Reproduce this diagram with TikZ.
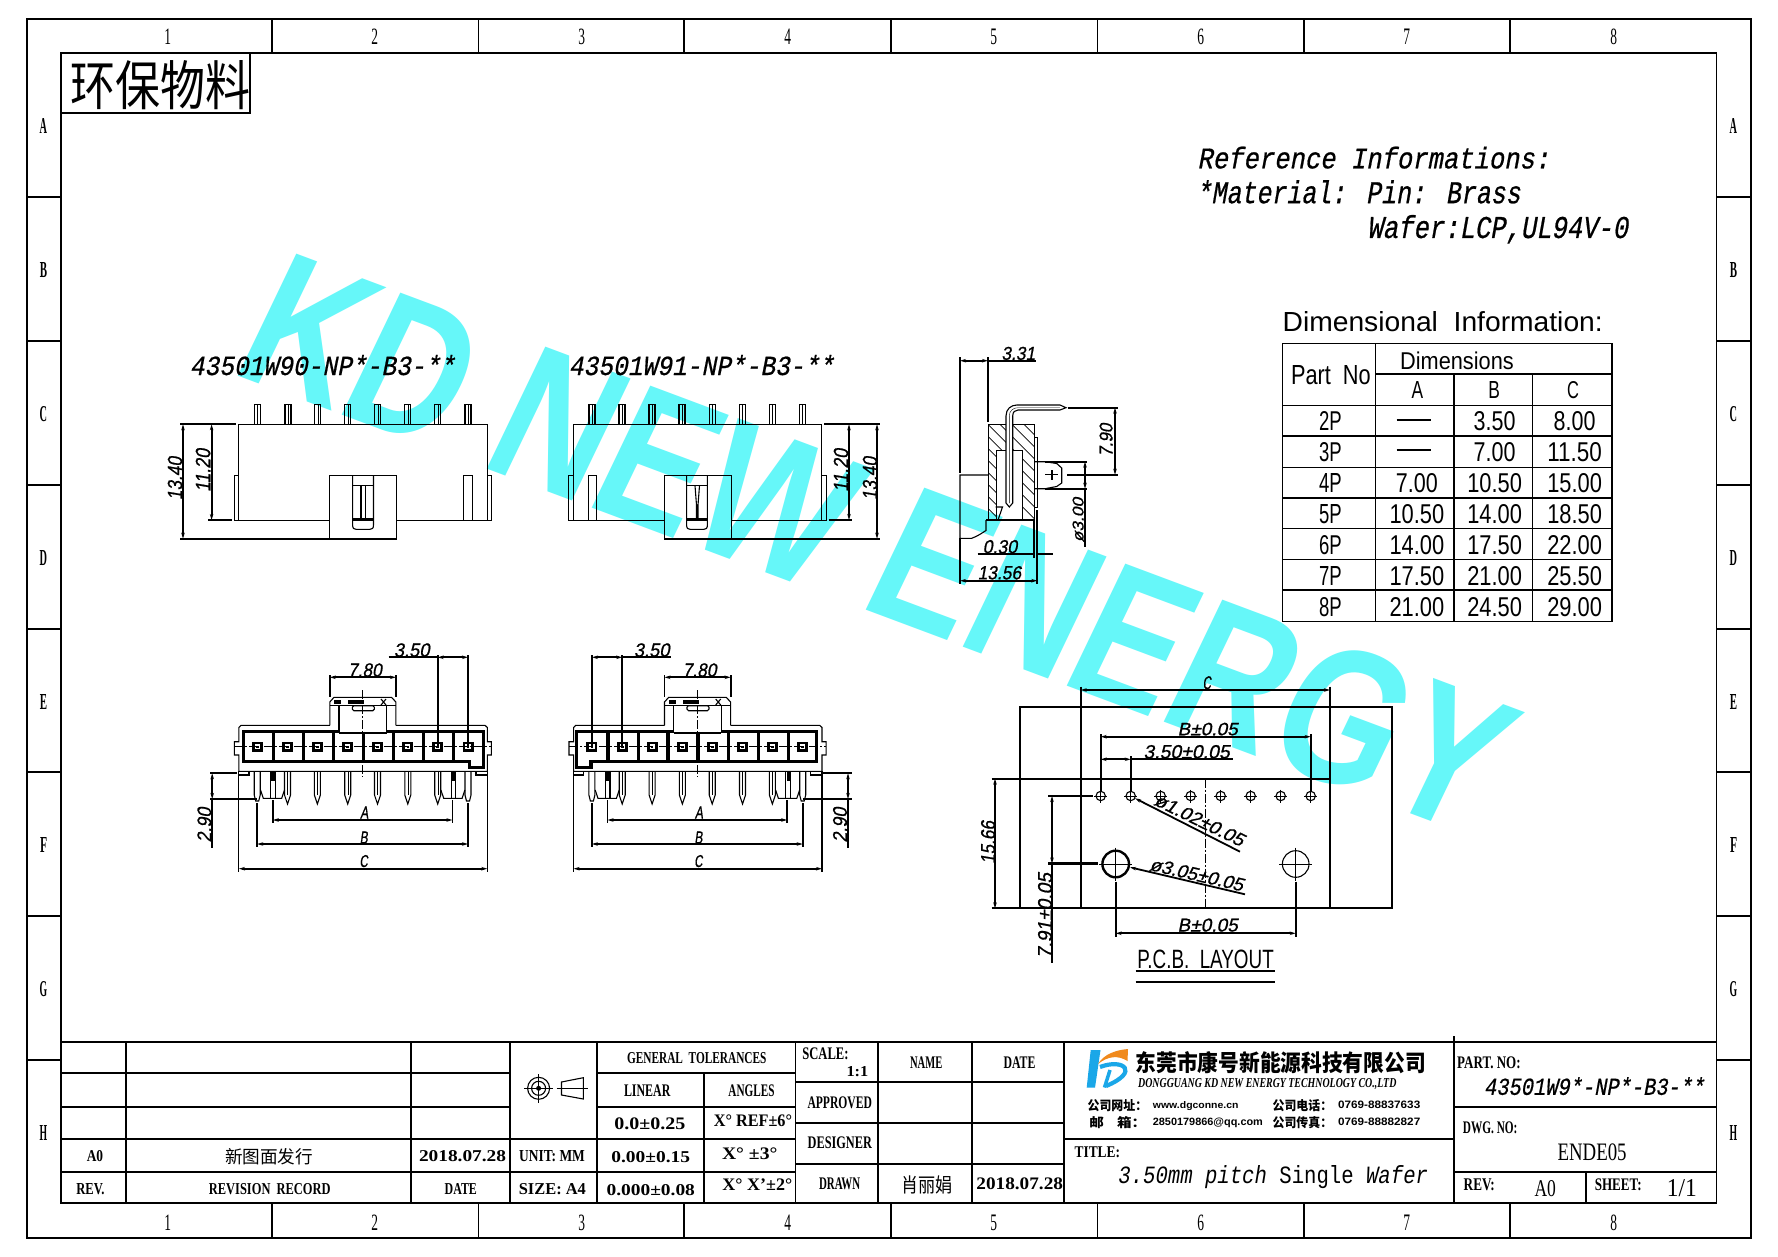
\documentclass[tikz,border=0pt]{standalone}
\usepackage{fontspec}
\usepackage{graphicx}
\usetikzlibrary{arrows.meta}
\setmainfont{Liberation Serif}
\newfontfamily\fsa{Liberation Sans}
\newfontfamily\fmo{Liberation Mono}
\newfontfamily\fcj{Noto Sans CJK SC}
\newfontfamily\fdim[FakeSlant=0.2,FakeBold=0.8]{Liberation Sans}
\newfontfamily\fmi[FakeSlant=0.22,FakeBold=0.7]{Liberation Mono}
\newcommand\ftb{\rmfamily\bfseries}
\definecolor{wm}{RGB}{102,247,249}
\definecolor{logob}{RGB}{26,167,232}
\definecolor{logoo}{RGB}{240,138,29}
\newcounter{tn}
\newlength\twd
\newcommand\TX[7][0]{\stepcounter{tn}\setlength\twd{\dimexpr #5pt+#6pt*20/100\relax}\node[inner sep=0pt,outer sep=0pt,rotate=#1] (t\arabic{tn}) at (#3,#4) {\raisebox{0pt}[\height][0pt]{\resizebox{\twd}{#6pt}{#2 #7}\kern\dimexpr #6pt*12/100\relax}};}
\newcommand\TY[7][0]{\stepcounter{tn}\node[inner sep=0pt,outer sep=0pt,rotate=#1] (t\arabic{tn}) at (#3,#4) {\raisebox{0pt}[\height][0pt]{\resizebox{#5pt}{#6pt}{#2 #7}}};}
\newcommand\TB[4]{\TX{\fsa}{#1}{#2}{#3}{19}{#4}}
\tikzset{
 thinl/.style={line width=1.1pt},
 med/.style={line width=1.8pt},
 heavy/.style={line width=3.2pt},
 leader/.style={line width=2.2pt},
 ctr/.style={line width=0.7pt,dash pattern=on 9pt off 2pt on 2pt off 2pt},
 dimb/.style={line width=1.8pt,{Stealth[length=6pt,width=3.5pt]}-{Stealth[length=6pt,width=3.5pt]}},
 dimr/.style={line width=1.8pt,-{Stealth[length=6pt,width=3.5pt]}},
}
\begin{document}
\begin{tikzpicture}[x=1pt,y=-1pt,line cap=butt,line join=miter]
\useasboundingbox (0,0) rectangle (1778,1257);
\fill[white] (0,0) rectangle (1778,1257);
% watermark
\node[anchor=base west,inner sep=0pt,rotate=-20.5,xslant=0.09,xscale=0.79,text=wm,font={\fsa\bfseries\fontsize{196}{196}\selectfont}] (wmark) at (228,372) {KD NEW ENERGY};

% frame
\draw[med] (26.7,19.3) rectangle (1751,1238);
\draw[med] (60.7,52.7) rectangle (1716.5,1203.3);
\foreach \x in {272,478.5,684,891,1097.5,1304,1510}{
 \draw[med] (\x,19.3)--(\x,52.7);
 \draw[med] (\x,1203.3)--(\x,1238);
}
\foreach \y in {197,341,485,629,772,916,1060}{
 \draw[med] (26.7,\y)--(60.7,\y);
 \draw[med] (1716.5,\y)--(1751,\y);
}
\foreach \x/\s in {167/1,374/2,581/3,787/4,993/5,1200/6,1406/7,1613/8}{
 \TX{\rmfamily}{\x}{36.5}{7}{15.5}{\s}
 \TX{\rmfamily}{\x}{1222.5}{7}{15.5}{\s}
}
\foreach \y/\s in {126/A,270/B,414/C,558/D,702/E,845/F,989/G,1133/H}{
 \TX{\ftb}{43}{\y}{7}{15}{\s}
 \TX{\ftb}{1733}{\y}{7}{15}{\s}
}
% eco box
\draw[med] (60.7,52.7) rectangle (250,112.7);
\TY{\fcj}{155}{82.5}{190}{45}{环保物料}

% reference text
\TY{\fmi}{1366}{157.5}{368}{21.7}{Reference Informations:}
\TY{\fmi}{1351}{191.7}{339}{23}{*Material: Pin: Brass}
\TY{\fmi}{1490}{226.5}{276}{23}{Wafer:LCP,UL94V-0}

% dimension table
\TX{\fsa}{1440}{321.7}{324}{20}{Dimensional\ \ Information:}
\draw[thinl] (1282.7,343.3) rectangle (1612,621.7);
\draw[thinl] (1375.7,343.3)--(1375.7,621.7);
\draw[thinl] (1454,374)--(1454,621.7);
\draw[thinl] (1532.7,374)--(1532.7,621.7);
\draw[thinl] (1375.7,374)--(1612,374);
\foreach \y in {405.3,436,467.3,498,528.7,559.3,590}{\draw[thinl] (1282.7,\y)--(1612,\y);}
\TX{\fsa}{1329}{374.5}{82}{19}{Part\ \ No}
\TX{\fsa}{1455}{360.5}{116}{17.6}{Dimensions}
\TX{\fsa}{1416}{390}{13}{17}{A}
\TX{\fsa}{1492.7}{390}{13}{17}{B}
\TX{\fsa}{1571.7}{390}{13}{17}{C}
\TB{1329}{420.5}{24}{2P}
\TB{1329}{451.5}{24}{3P}
\TB{1329}{483}{24}{4P}
\TB{1329}{514}{24}{5P}
\TB{1329}{544.5}{24}{6P}
\TB{1329}{575.5}{24}{7P}
\TB{1329}{606.5}{24}{8P}
\draw[med] (1396.7,420)--(1430.7,420);
\draw[med] (1396.7,450)--(1430.7,450);
\TB{1415}{483}{44}{7.00}
\TB{1415}{514}{57}{10.50}
\TB{1415}{544.5}{57}{14.00}
\TB{1415}{575.5}{57}{17.50}
\TB{1415}{606.5}{57}{21.00}
\TB{1492.7}{420.5}{44}{3.50}
\TB{1492.7}{451.5}{44}{7.00}
\TB{1492.7}{483}{57}{10.50}
\TB{1492.7}{514}{57}{14.00}
\TB{1492.7}{544.5}{57}{17.50}
\TB{1492.7}{575.5}{57}{21.00}
\TB{1492.7}{606.5}{57}{24.50}
\TB{1572.7}{420.5}{44}{8.00}
\TB{1572.7}{451.5}{57}{11.50}
\TB{1572.7}{483}{57}{15.00}
\TB{1572.7}{514}{57}{18.50}
\TB{1572.7}{544.5}{57}{22.00}
\TB{1572.7}{575.5}{57}{25.50}
\TB{1572.7}{606.5}{57}{29.00}

% ===== front views =====
\TY{\fmi}{315}{365}{280}{20}{43501W90-NP*-B3-**}
\TY{\fmi}{694}{365}{280}{20}{43501W91-NP*-B3-**}
\foreach \x in {257.6,288,317.7,347.8,377.8,407.9,437.9,468,592,622,652,682,712.3,742.3,772.4,802.5}{
 \draw[thinl] (\x-3,424.3)--(\x-3,404.3)--(\x+3,404.3)--(\x+3,424.3);
 \draw[line width=.4pt] (\x,404.3)--(\x,424.3);
}
% left front
\draw[thinl] (238.7,475.3)--(238.7,424.3)--(487.4,424.3)--(487.4,475.3);
\draw[thinl] (329.4,520.3)--(234.3,520.3)--(234.3,475.3)--(238.7,475.3)--(238.7,520.3);
\draw[thinl] (396.7,520.3)--(491.7,520.3)--(491.7,475.3)--(487.4,475.3)--(487.4,520.3);
\draw[thinl] (463.6,520.3)--(463.6,475.3)--(472.3,475.3)--(472.3,520.3);
\draw[thinl] (329.4,475.3) rectangle (396.7,538.7);
\draw[thinl] (352.6,475.3)--(352.6,525) .. controls (352.6,528.5) and (354,529.3) .. (356,529.3)--(370,529.3) .. controls (372,529.3) and (373.5,528.5) .. (373.5,525)--(373.5,475.3);
\draw[thinl] (352.6,485.7)--(373.5,485.7);
\draw[thinl] (361,485.7)--(361,519) (365.7,485.7)--(365.7,519);
\draw[heavy] (352.6,519.5)--(373.5,519.5);
\draw[leader] (180,424.3)--(236,424.3);
\draw[leader] (180,538.7)--(396.7,538.7);
\draw[leader] (208,520)--(232,520);
\draw[dimb] (183,424.3)--(183,538.7);
\draw[dimb] (211.6,424.3)--(211.6,520);
\TX[90]{\fdim}{175}{480}{45}{14.5}{13.40}
\TX[90]{\fdim}{203}{472}{45}{14.5}{11.20}
% right front
\draw[thinl] (573.7,475.3)--(573.7,424.3)--(821.4,424.3)--(821.4,475.3);
\draw[thinl] (664.3,520.3)--(568.3,520.3)--(568.3,475.3)--(573.7,475.3)--(573.7,520.3);
\draw[thinl] (731.7,520.3)--(826.7,520.3)--(826.7,475.3)--(821.4,475.3)--(821.4,520.3);
\draw[thinl] (588.7,520.3)--(588.7,475.3)--(596.4,475.3)--(596.4,520.3);
\draw[thinl] (664.3,475.3) rectangle (731.7,538.7);
\draw[thinl] (686.6,475.3)--(686.6,525) .. controls (686.6,528.5) and (688,529.3) .. (690,529.3)--(704,529.3) .. controls (706,529.3) and (707.4,528.5) .. (707.4,525)--(707.4,475.3);
\draw[thinl] (686.6,485.7)--(707.4,485.7);
\draw[thinl] (695,485.7)--(696.5,505)--(696.5,519) (699.5,485.7)--(698,505)--(698,519);
\draw[heavy] (686.6,519.5)--(707.4,519.5);
\draw[leader] (824,424.3)--(880,424.3);
\draw[leader] (664.3,538.7)--(880,538.7);
\draw[leader] (828.6,520)--(852,520);
\draw[dimb] (877,424.3)--(877,538.7);
\draw[dimb] (849,424.3)--(849,520);
\TX[90]{\fdim}{870}{480}{45}{14.5}{13.40}
\TX[90]{\fdim}{841}{472}{45}{14.5}{11.20}

% ===== bottom (mating) views =====
\foreach \s in {0,334.7}{
\begin{scope}[xshift=\s pt]
 % housing
 \draw[thinl] (329.8,725.3)--(241,725.3)--(238.9,727.5)--(238.9,741.7)--(234.3,741.7)--(234.3,755)--(238.9,755)--(238.9,771.3)--(487.3,771.3)--(487.3,755)--(491.4,755)--(491.4,741.7)--(487.3,741.7)--(487.3,727.5)--(485,725.3)--(395.9,725.3);
 \draw[thinl] (238.9,771.3)--(238.9,775)--(249,775)--(249,771.3);
 \draw[thinl] (476,771.3)--(476,775)--(487.3,775)--(487.3,771.3);
 % latch block
 \draw[thinl] (329.8,725.3)--(329.8,702)--(334,697.3)--(391.5,697.3)--(395.9,702)--(395.9,725.3);
 \draw[thinl] (329.8,705.7)--(339,705.7)--(339,731.7) (395.9,705.7)--(386.7,705.7)--(386.7,731.7);
 \draw[thinl] (339,705.7)--(386.7,705.7);
 \draw[thinl] (339,733)--(386.7,733);
 \draw[thinl,rounded corners=1.5pt] (352.3,705.7) rectangle (374.3,710.7);
 \fill (334.4,699.5) rectangle (340.8,704);
 \fill (348,699.5) rectangle (363.8,704);
 \draw[thinl] (381,699)--(386,705) (386,699)--(381,705);
 % dividers
 \foreach \x in {273.3,303.4,333.2,363.3,393.4,423.4,453.7}{\draw[heavy] (\x,731.7)--(\x,761.7);}
 % pins and pin squares
 \foreach \x in {257.2,287.5,317.4,347.7,377.5,407.8,437.7,468}{
  \fill (\x-5.5,741.7) rectangle (\x+5.5,751.7);
  \fill[white] (\x-2.6,744.3) rectangle (\x+2.6,749.2);
  \fill (\x-1.3,745.5) rectangle (\x+1.3,748);
 }
 \foreach \x in {287.5,317.4,347.7,377.5,407.8,437.7}{
  \draw[thinl] (\x-3,771.3)--(\x-3,795)--(\x,804)--(\x+3,795)--(\x+3,771.3);
  \draw[line width=.4pt] (\x,771.3)--(\x,795);
 }
 \foreach \x in {257.2,468}{
  \draw[thinl] (\x-3,771.3)--(\x-3,795)--(\x-1.5,801)--(\x+1.5,801)--(\x+3,795)--(\x+3,771.3);
 }
 % latch hooks
 \foreach \d in {0,180.4}{
  \draw[thinl] (260.5+\d,790)--(263.3+\d,798.3)--(281.7+\d,798.3)--(284.5+\d,790);
  \draw[thinl] (270.7+\d,771.3)--(270.7+\d,798.3) (275.3+\d,771.3)--(275.3+\d,798.3);
  \draw[heavy] (273+\d,771.3)--(273+\d,781);
 }
 % center lines
 \draw[ctr] (234.3,746.7)--(491.4,746.7);
 \draw[ctr] (362.8,690)--(362.8,776.7);
 % dims
 \draw[med] (329.8,675)--(329.8,697.3) (395.9,675)--(395.9,697.3);
 \draw[dimb] (329.8,677.3)--(395.9,677.3);
 \TX{\fdim}{363.3}{670}{36}{13.4}{7.80}
 \draw[med] (272.8,800)--(272.8,823) (452.4,800)--(452.4,823);
 \draw[dimb] (272.8,820)--(452.4,820);
 \TX{\fdim}{363.3}{812.5}{9}{12}{A}
 \draw[med] (257.2,803)--(257.2,847) (468,803)--(468,847);
 \draw[dimb] (257.2,844)--(468,844);
 \TX{\fdim}{362.8}{837.5}{9}{12}{B}
 \draw[thinl] (238.9,775)--(238.9,872) (487.3,775)--(487.3,872);
 \draw[dimb] (238.9,868.7)--(487.3,868.7);
 \TX{\fdim}{362.8}{861}{9}{12}{C}
\end{scope}
}
% left cavity with key
\draw[heavy] (339,731.7)--(243.5,731.7)--(243.5,761.7)--(469.4,761.7)--(469.4,767.3)--(483.6,767.3)--(483.6,731.7)--(386.7,731.7);
% right cavity with key
\draw[heavy] (721.3,731.7)--(816.8,731.7)--(816.8,761.7)--(590.9,761.7)--(590.9,767.3)--(576.7,767.3)--(576.7,731.7)--(673.6,731.7);
% 3.50 left
\draw[med] (437.7,655)--(437.7,746.7) (468,655)--(468,746.7);
\draw[dimb] (437.7,657.3)--(468,657.3);
\draw[med] (388.5,657.3)--(437.7,657.3);
\TX{\fdim}{410}{650}{38}{13.4}{3.50}
% 3.50 right
\draw[med] (592,655)--(592,746.7) (622.2,655)--(622.2,746.7);
\draw[dimb] (592,657.3)--(622.2,657.3);
\draw[med] (622.2,657.3)--(671.4,657.3);
\TX{\fdim}{650}{650}{38}{13.4}{3.50}
% 2.90 left
\draw[leader] (210,773.3)--(236.5,773.3);
\draw[leader] (210,799)--(257,799);
\draw[dimb] (212.2,773.3)--(212.2,799);
\draw[med] (212.2,799)--(212.2,848);
\TX[90]{\fdim}{204.4}{826.7}{37}{14}{2.90}
% 2.90 right
\draw[leader] (823,773.3)--(852,773.3);
\draw[leader] (803,799)--(852,799);
\draw[dimb] (848,773.3)--(848,799);
\draw[med] (848,799)--(848,848);
\TX[90]{\fdim}{840}{826.7}{37}{14}{2.90}

% ===== side section =====
\begin{scope}
 \clip (988.7,424.3)--(1034.7,424.3)--(1034.7,520.7)--(1022.7,520.7)--(1022.7,450.7)--(996.7,450.7)--(996.7,520.7)--(988.7,520.7)--cycle;
 \foreach \x in {880,892,...,1040}{\draw[line width=.7pt] (\x,424.3)--(\x+100,524.3);}
\end{scope}
\draw[thinl] (988.7,424.3) rectangle (1034.7,520.7);
\draw[thinl] (996.7,520.7)--(996.7,450.7)--(1022.7,450.7)--(1022.7,520.7);
\draw[thinl] (1034.7,437.3) rectangle (1037.7,507.3);
\draw[thinl] (995.5,507)--(1002.5,507)--(998,520);
\draw[line width=2.2pt] (986,520)--(1034.7,520);
% pin
\fill[white] (1006,504)--(1006,416) .. controls (1006,409) and (1011,405) .. (1017,405)--(1060,405)--(1066,407.7)--(1060,410)--(1018,410) .. controls (1015,410) and (1012.7,412) .. (1012.7,416)--(1012.7,504)--(1009.3,507)--cycle;
\draw[thinl] (1006,503)--(1006,416) .. controls (1006,409) and (1011,405) .. (1017,405)--(1060,405)--(1066,407.7)--(1060,410)--(1018,410) .. controls (1015,410) and (1012.7,412) .. (1012.7,416)--(1012.7,503)--(1009.3,507)--cycle;
\draw[line width=.4pt] (1009.3,503)--(1009.3,416) .. controls (1009.3,411) and (1013,407.7) .. (1018,407.7)--(1060,407.7);
% latch outline
\draw[thinl] (988.7,475)--(960,475)--(960,538.3)--(971.7,538.3) .. controls (978,536) and (982,533) .. (986,530.5)--(986,520);
% peg
\draw[thinl] (1034.7,461.7)--(1045,461.7)--(1056.7,463.5)--(1061.7,468)--(1061.7,483)--(1056.7,486.5)--(1045,488.7)--(1034.7,488.7);
\draw[thinl] (1052,470)--(1052,480);
\draw[thinl] (1045,474.7)--(1058,474.7);
\draw[leader] (1045,461.7)--(1087,461.7);
\draw[leader] (1045,488.7)--(1087,488.7);
\draw[dimb] (1085,461.7)--(1085,488.7);
\draw[med] (1085,488.7)--(1085,546.7);
\TX[90]{\fdim}{1078}{521.7}{47}{11}{ø3.00}
% side dims
\draw[med] (960,357)--(960,472.7) (988,357)--(988,421.7);
\draw[dimb] (960,360.7)--(988,360.7);
\draw[med] (988,360.7)--(1035.7,360.7);
\TX{\fdim}{1016.7}{353.3}{36}{13}{3.31}
\draw[leader] (1068,407.7)--(1118,407.7);
\draw[leader] (1067,474.7)--(1118,474.7);
\draw[dimb] (1115,407.7)--(1115,474.7);
\TX[90]{\fdim}{1106}{441.7}{35}{13}{7.90}
\draw[med] (1034,520)--(1034,558) (1037.3,510)--(1037.3,584);
\draw[med] (977.7,554.3)--(1034,554.3) (1037.3,554.3)--(1052.7,554.3);
\TX{\fdim}{998.3}{546.7}{36.7}{13.3}{0.30}
\draw[med] (960,538)--(960,584);
\draw[dimb] (960,580.7)--(1037.3,580.7);
\TX{\fdim}{997.8}{572.7}{45.7}{13.3}{13.56}

% ===== PCB layout =====
\draw[med] (1020,706.7) rectangle (1392,908.3);
\draw[med] (991.7,778.7)--(1330,778.7);
\draw[med] (991.7,908.3)--(1020,908.3);
\draw[med] (1080.7,686.7)--(1080.7,908.3) (1330,686.7)--(1330,908.3);
\draw[dimb] (1080.7,690)--(1330,690);
\TX{\fdim}{1206}{682.7}{9}{13}{C}
\draw[dimb] (995,778.7)--(995,908.3);
\TX[90]{\fdim}{988}{844}{45}{14}{15.66}
\draw[med] (1100.7,734)--(1100.7,791) (1310.7,734)--(1310.7,791);
\draw[dimb] (1100.7,736.7)--(1310.7,736.7);
\TX{\fdim}{1205.8}{729}{63}{12.5}{B±0.05}
\draw[med] (1130.7,756)--(1130.7,791);
\draw[dimb] (1100.7,759.3)--(1130.7,759.3);
\draw[med] (1130.7,759.3)--(1232.7,759.3);
\TX{\fdim}{1184.7}{751.7}{89}{13.3}{3.50±0.05}
\foreach \x in {1100.7,1130.7,1160.7,1190.7,1220.7,1250.7,1280.7,1310.7}{
 \draw[thinl] (\x,796) circle[radius=4.7];
 \draw[line width=.7pt] (\x-6.5,796)--(\x+6.5,796) (\x,789.5)--(\x,802.5);
}
\draw[line width=2.4pt] (1115.7,864) circle[radius=13.3];
\draw[line width=.7pt] (1099,864)--(1132,864) (1115.7,847.5)--(1115.7,880.5);
\draw[thinl] (1295.7,864) circle[radius=13.3];
\draw[line width=.7pt] (1279,864)--(1312,864) (1295.7,847.5)--(1295.7,880.5);
\draw[ctr] (1205.7,778.7)--(1205.7,908.3);
\draw[leader] (1048,796)--(1093,796);
\draw[leader] (1048,863.5)--(1098,863.5);
\draw[dimb] (1052,796)--(1052,863.5);
\draw[med] (1052,863.5)--(1052,963);
\TX[90]{\fdim}{1045}{917.5}{88}{14}{7.91±0.05}
\draw[dimr] (1240,851.7)--(1135,798.3);
\TX[-26]{\fdim}{1198}{819}{100}{13}{ø1.02±0.05}
\draw[dimr] (1245,894.3)--(1130,867.3);
\TX[-13]{\fdim}{1195}{874}{98}{13}{ø3.05±0.05}
\draw[med] (1115.7,881.7)--(1115.7,936.7) (1295.7,881.7)--(1295.7,936.7);
\draw[dimb] (1115.7,933.3)--(1295.7,933.3);
\TX{\fdim}{1205.8}{925}{63}{13}{B±0.05}
\TX{\fsa}{1204}{959}{138}{18.5}{P.C.B.\ \ LAYOUT}
\draw[med] (1135.7,970.7)--(1275,970.7) (1135.7,982)--(1275,982);

% ===== title block =====
\draw[med] (60.7,1042)--(1716.5,1042);
\foreach \y in {1073,1107}{\draw[med] (60.7,\y)--(510,\y);}
\draw[med] (60.7,1139)--(795.5,1139);
\draw[med] (60.7,1172)--(795.5,1172);
\foreach \x in {126,411,510,597}{\draw[med] (\x,1042)--(\x,1203.3);}
\draw[med] (597,1073)--(795.5,1073);
\draw[med] (597,1107)--(795.5,1107);
\draw[med] (704,1073)--(704,1203.3);
\foreach \x in {795.5,877.6,972,1064}{\draw[med] (\x,1042)--(\x,1203.3);}
\foreach \y in {1082,1123,1164}{\draw[med] (795.5,\y)--(1064,\y);}
\draw[med] (1064,1139)--(1454,1139);
\draw[med] (1454,1036)--(1454,1203.3);
\draw[med] (1454,1107)--(1716.5,1107);
\draw[med] (1454,1172)--(1716.5,1172);
\draw[med] (1586,1172)--(1586,1203.3);
% symbols
\draw[thinl] (538.6,1088.3) circle[radius=11];
\draw[thinl] (538.6,1088.3) circle[radius=7];
\fill (538.6,1088.3) circle[radius=2.5];
\draw[thinl] (524,1088.3)--(553,1088.3) (538.6,1074)--(538.6,1103);
\draw[thinl] (561.5,1082)--(583.3,1077.7)--(583.3,1099)--(561.5,1095)--cycle;
\draw[thinl] (556.6,1088.3)--(588,1088.3);
% left texts
\TX{\ftb}{696}{1058.3}{140}{11}{GENERAL\ \ TOLERANCES}
\TX{\ftb}{646.4}{1090.8}{47}{11.7}{LINEAR}
\TX{\ftb}{750.8}{1090.8}{46.5}{11.7}{ANGLES}
\TX{\ftb}{648}{1124}{73.7}{11.7}{0.0±0.25}
\TX{\ftb}{751.6}{1120.8}{80}{11.7}{X° REF±6°}
\TX{\ftb}{94}{1156.2}{17.5}{11}{A0}
\TX{\fcj}{268}{1155.8}{89}{15}{新图面发行}
\TX{\ftb}{460.8}{1156.2}{89.7}{11}{2018.07.28}
\TX{\ftb}{551}{1156.2}{67}{11}{UNIT: MM}
\TX{\ftb}{649}{1157}{81.4}{11}{0.00±0.15}
\TX{\ftb}{748}{1154}{58}{11.7}{X° ±3°}
\TX{\ftb}{89.5}{1188.7}{29}{11}{REV.}
\TX{\ftb}{268.9}{1188.7}{122.6}{11}{REVISION\ \ RECORD}
\TX{\ftb}{460}{1188.7}{33}{11}{DATE}
\TX{\ftb}{551}{1188.7}{69}{11}{SIZE: A4}
\TX{\ftb}{649}{1190}{91}{11}{0.000±0.08}
\TX{\ftb}{755.8}{1185}{72}{11.7}{X° X'±2°}
% middle texts
\TX{\ftb}{824.6}{1054}{47}{11.7}{SCALE:}
\TX{\ftb}{856}{1071}{24}{10}{1:1}
\TX{\ftb}{925.6}{1063}{32.5}{11.7}{NAME}
\TX{\ftb}{1018.7}{1063}{32.5}{11.7}{DATE}
\TX{\ftb}{839}{1103}{65}{11.7}{APPROVED}
\TX{\ftb}{839}{1143}{65}{11.7}{DESIGNER}
\TX{\ftb}{839}{1184}{41.6}{11.7}{DRAWN}
\TX{\fcj}{926}{1184}{52}{16.7}{肖丽娟}
\TX{\ftb}{1018}{1184}{89}{11.7}{2018.07.28}
% logo
\fill[logob] (1090.7,1050)--(1100.5,1050)--(1095,1087.7)--(1086.7,1087.7)--cycle;
\fill[logoo] (1098,1064) .. controls (1104,1054) and (1116,1050) .. (1128,1049)--(1127.5,1061) .. controls (1118,1055) and (1108,1056) .. (1098,1064)--cycle;
\draw[logob,line width=4.2pt] (1100,1067) .. controls (1124,1058) and (1140,1072) .. (1106,1086);
\draw[logob,line width=3.5pt] (1104.5,1087.5)--(1110,1070);
\TX{\fcj\bfseries}{1279.6}{1061.7}{291}{20}{东莞市康号新能源科技有限公司}
\TX{\ftb\itshape}{1266.6}{1083}{259}{9}{DONGGUANG KD NEW ENERGY TECHNOLOGY CO.,LTD}
\TX{\fcj\bfseries}{1116.7}{1104.5}{60}{11}{公司网址：}
\TX{\fsa\bfseries}{1194.7}{1104.5}{87}{7}{www.dgconne.cn}
\TX{\fcj\bfseries}{1301.7}{1104.5}{60}{11}{公司电话：}
\TX{\fsa\bfseries}{1378}{1104.5}{84}{7.5}{0769-88837633}
\TX{\fcj\bfseries}{1116.7}{1122}{58}{11}{邮\ \ \ \ 箱：}
\TX{\fsa\bfseries}{1206.8}{1122}{111.7}{7.5}{2850179866@qq.com}
\TX{\fcj\bfseries}{1301.7}{1122}{60}{11}{公司传真：}
\TX{\fsa\bfseries}{1378}{1122}{84}{7.5}{0769-88882827}
\TX{\ftb}{1096.3}{1152}{46.6}{10.7}{TITLE:}
\TY{\fmo\itshape}{1267}{1174.3}{322}{18}{3.50mm pitch {\upshape Single} Wafer}
% right texts
\TX{\ftb}{1488}{1062.8}{64.3}{11.7}{PART. NO:}
\TY{\fmi}{1588}{1086}{232.5}{17.7}{43501W9*-NP*-B3-**}
\TX{\ftb}{1489.5}{1128}{55}{11.7}{DWG. NO:}
\TX{\rmfamily}{1590.7}{1151.7}{70.4}{16.7}{ENDE05}
\TX{\ftb}{1478.3}{1185}{32}{11.7}{REV:}
\TX{\rmfamily}{1544}{1188}{22.6}{16}{A0}
\TX{\ftb}{1617.3}{1185}{47.8}{11.7}{SHEET:}
\TX{\rmfamily}{1680}{1188}{32.4}{17}{1/1}
\end{tikzpicture}
\end{document}
